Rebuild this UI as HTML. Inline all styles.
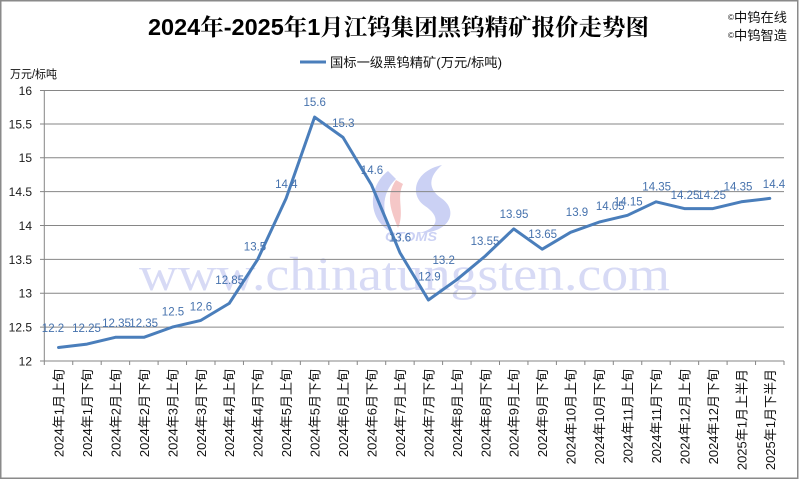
<!DOCTYPE html>
<html><head><meta charset="utf-8"><style>
html,body{margin:0;padding:0;background:#fff;}
svg{display:block;}
text{font-family:"Liberation Sans","Noto Sans CJK SC",sans-serif;}
</style></head><body>
<svg width="800" height="480" viewBox="0 0 800 480" xmlns="http://www.w3.org/2000/svg">
<rect x="0" y="0" width="800" height="480" fill="#fff"/>
<rect x="0.75" y="0.75" width="797" height="477.5" fill="none" stroke="#8a8a8a" stroke-width="1.5"/>

<!-- watermark -->
<g opacity="0.9">
<path d="M388,171 C368,186 366,220 393,233 C381,214 381,193 396,179 Z" fill="#c6cdf3"/>
<path d="M396,180 C385,196 391,211 398,228 C405,212 396,198 403,184 Z" fill="#f4c2c2"/>
<path d="M442,165 C414,171 409,195 425,206 C440,216 440,228 419,233 C451,233 459,210 441,198 C428,189 428,177 442,165 Z" fill="#c6cdf3"/>
<text x="385" y="241" font-size="13" font-weight="bold" font-style="italic" fill="#c6cdf3" textLength="52" lengthAdjust="spacingAndGlyphs">CTOMS</text>
<text x="139" y="290" font-size="48" fill="#d3d7f5" textLength="531" lengthAdjust="spacingAndGlyphs" style="font-family:'Liberation Serif',serif">www.chinatungsten.com</text>
</g>

<!-- gridlines -->
<g stroke="#868686" stroke-width="1">
<line x1="44.3" y1="90.5" x2="784" y2="90.5"/>
<line x1="44.3" y1="124" x2="784" y2="124"/>
<line x1="44.3" y1="157.75" x2="784" y2="157.75"/>
<line x1="44.3" y1="191.6" x2="784" y2="191.6"/>
<line x1="44.3" y1="225.5" x2="784" y2="225.5"/>
<line x1="44.3" y1="259.4" x2="784" y2="259.4"/>
<line x1="44.3" y1="293.25" x2="784" y2="293.25"/>
<line x1="44.3" y1="327.1" x2="784" y2="327.1"/>
<line x1="44.3" y1="361" x2="784" y2="361"/>
<line x1="44.3" y1="90" x2="44.3" y2="361"/>
<path d="M40,90.5H44.3M40,124H44.3M40,157.75H44.3M40,191.6H44.3M40,225.5H44.3M40,259.4H44.3M40,293.25H44.3M40,327.1H44.3M40,361H44.3"/>
<path d="M44.3,361V365M72.75,361V365M101.2,361V365M129.65,361V365M158.1,361V365M186.55,361V365M215,361V365M243.45,361V365M271.9,361V365M300.35,361V365M328.8,361V365M357.25,361V365M385.7,361V365M414.15,361V365M442.6,361V365M471.05,361V365M499.5,361V365M527.95,361V365M556.4,361V365M584.85,361V365M613.3,361V365M641.75,361V365M670.2,361V365M698.65,361V365M727.1,361V365M755.55,361V365M784,361V365"/>
</g>

<!-- y labels -->
<g font-size="12" fill="#1a1a1a" text-anchor="end">
<text x="32" y="95">16</text>
<text x="32" y="128.5">15.5</text>
<text x="32" y="162">15</text>
<text x="32" y="196">14.5</text>
<text x="32" y="230">14</text>
<text x="32" y="264">13.5</text>
<text x="32" y="297.5">13</text>
<text x="32" y="331.5">12.5</text>
<text x="32" y="365.5">12</text>
</g>

<!-- series -->
<polyline fill="none" stroke="#4a7ebb" stroke-width="3" stroke-linejoin="round" stroke-linecap="round"
points="58.5,347.5 87,344.1 115.4,337.3 143.9,337.3 172.3,327.1 200.8,320.4 229.2,303.4 257.7,259.4 286.1,198.4 314.6,117.1 343,137.4 371.5,184.9 399.9,252.6 428.4,300 456.8,279.7 485.3,256 513.7,228.9 542.2,249.2 570.6,232.3 599.1,222.1 627.5,215.3 656,201.8 684.4,208.6 712.9,208.6 741.3,201.8 769.8,198.4"/>

<!-- data labels -->
<g font-size="11.5" fill="#4672ad" text-anchor="middle">
<text x="53" y="332">12.2</text>
<text x="86.5" y="332">12.25</text>
<text x="116.5" y="327">12.35</text>
<text x="143.7" y="327">12.35</text>
<text x="173" y="315.5">12.5</text>
<text x="201" y="310.5">12.6</text>
<text x="229.7" y="284">12.85</text>
<text x="255" y="250.5">13.5</text>
<text x="286.3" y="188">14.4</text>
<text x="314.7" y="106">15.6</text>
<text x="343.3" y="127">15.3</text>
<text x="372" y="174">14.6</text>
<text x="400" y="241.5">13.6</text>
<text x="429.5" y="280.5">12.9</text>
<text x="443.7" y="264">13.2</text>
<text x="485" y="245">13.55</text>
<text x="514" y="218">13.95</text>
<text x="542.7" y="238">13.65</text>
<text x="577" y="216">13.9</text>
<text x="610.3" y="210">14.05</text>
<text x="628.3" y="205.5">14.15</text>
<text x="656.7" y="190.5">14.35</text>
<text x="685" y="199">14.25</text>
<text x="711.7" y="199">14.25</text>
<text x="738" y="190.5">14.35</text>
<text x="774" y="188">14.4</text>
</g>

<!-- x labels -->
<g font-size="13" fill="#111" text-anchor="end">
<text transform="translate(63.5,369) rotate(-90)">2024年1月上旬</text>
<text transform="translate(92,369) rotate(-90)">2024年1月下旬</text>
<text transform="translate(120.4,369) rotate(-90)">2024年2月上旬</text>
<text transform="translate(148.9,369) rotate(-90)">2024年2月下旬</text>
<text transform="translate(177.3,369) rotate(-90)">2024年3月上旬</text>
<text transform="translate(205.8,369) rotate(-90)">2024年3月下旬</text>
<text transform="translate(234.2,369) rotate(-90)">2024年4月上旬</text>
<text transform="translate(262.7,369) rotate(-90)">2024年4月下旬</text>
<text transform="translate(291.1,369) rotate(-90)">2024年5月上旬</text>
<text transform="translate(319.6,369) rotate(-90)">2024年5月下旬</text>
<text transform="translate(348,369) rotate(-90)">2024年6月上旬</text>
<text transform="translate(376.5,369) rotate(-90)">2024年6月下旬</text>
<text transform="translate(404.9,369) rotate(-90)">2024年7月上旬</text>
<text transform="translate(433.4,369) rotate(-90)">2024年7月下旬</text>
<text transform="translate(461.8,369) rotate(-90)">2024年8月上旬</text>
<text transform="translate(490.3,369) rotate(-90)">2024年8月下旬</text>
<text transform="translate(518.7,369) rotate(-90)">2024年9月上旬</text>
<text transform="translate(547.2,369) rotate(-90)">2024年9月下旬</text>
<text transform="translate(575.6,369) rotate(-90)">2024年10月上旬</text>
<text transform="translate(604.1,369) rotate(-90)">2024年10月下旬</text>
<text transform="translate(632.5,369) rotate(-90)">2024年11月上旬</text>
<text transform="translate(661,369) rotate(-90)">2024年11月下旬</text>
<text transform="translate(689.4,369) rotate(-90)">2024年12月上旬</text>
<text transform="translate(717.9,369) rotate(-90)">2024年12月下旬</text>
<text transform="translate(746.3,369) rotate(-90)">2025年1月上半月</text>
<text transform="translate(774.8,369) rotate(-90)">2025年1月下半月</text>
</g>

<!-- title -->
<text x="148" y="35" font-size="23" font-weight="bold" fill="#000" textLength="501" lengthAdjust="spacingAndGlyphs" style="font-family:'Liberation Sans','Noto Serif CJK SC',serif">2024年-2025年1月江钨集团黑钨精矿报价走势图</text>

<!-- copyright -->
<text x="728" y="22" font-size="13" fill="#111" textLength="59" lengthAdjust="spacingAndGlyphs"><tspan font-size="8" dy="-2">©</tspan><tspan dy="2">中钨在线</tspan></text>
<text x="728" y="40" font-size="13" fill="#111" textLength="59" lengthAdjust="spacingAndGlyphs"><tspan font-size="8" dy="-2">©</tspan><tspan dy="2">中钨智造</tspan></text>

<!-- legend -->
<line x1="300" y1="62" x2="326" y2="62" stroke="#4a7ebb" stroke-width="3"/>
<text x="330" y="67" font-size="13" fill="#111" textLength="172" lengthAdjust="spacingAndGlyphs">国标一级黑钨精矿(万元/标吨)</text>

<!-- unit -->
<text x="10" y="78" font-size="11.5" fill="#111" textLength="47" lengthAdjust="spacingAndGlyphs">万元/标吨</text>
</svg>
</body></html>
